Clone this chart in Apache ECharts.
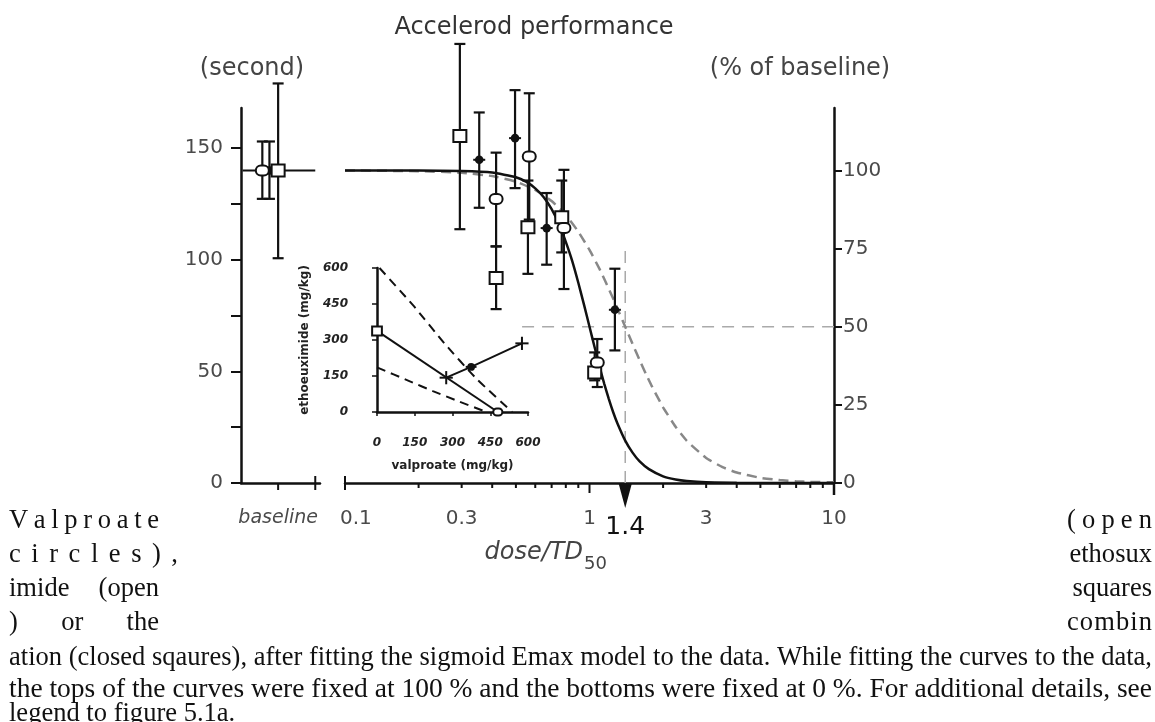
<!DOCTYPE html>
<html><head><meta charset="utf-8">
<script src="https://cdn.jsdelivr.net/npm/echarts@6/dist/echarts.min.js"></script>
<style>html,body{margin:0;padding:0;background:#fff;}#c{width:1155px;height:722px;}</style>
</head><body><div id="c"></div>
<script>
// ---------------- data ----------------
const leftTickValues = [0, 25, 50, 75, 100, 125, 150];
const leftLabelValues = [0, 50, 100, 150];
const rightTickValues = [0, 25, 50, 75, 100];
const xMinorTicks = [0.2, 0.3, 0.4, 0.5, 0.6, 0.7, 0.8, 0.9, 2, 3, 4, 5, 6, 7, 8, 9];
const xMajorTicks = [0.1, 1, 10];
const xTickLabels = ['0.1', '0.3', '1', '3', '10'];
const xTickLabelValues = [0.1, 0.3, 1, 3, 10];
const baselineTicks = [0.47, 0.94];
const baselineTickLabel = 'baseline';
const td50Mark = 1.4;
const td50Label = '1.4';

// baseline group (seconds)
const baseValproate = { x: [0.27], mean: [140], low: [127.3], high: [153] };
const baseCombination = { x: [0.36], mean: [140], low: [127.3], high: [153] };
const baseEthosuximide = { x: [0.47], mean: [140], low: [100.7], high: [179] };
const baselineLevelX = [0.02, 0.94];
const baselineLevelY = [140, 140];

// dose/TD50 groups (seconds)
const valproateDose = [0.415, 0.567, 0.786, 1.076];
const valproateMean = [127.2, 146.3, 114.2, 54];
const valproateLow = [106, 118, 86.9, 43];
const valproateHigh = [148, 174.6, 140.3, 64.5];

const ethoDose = [0.295, 0.415, 0.56, 0.77, 1.05];
const ethoMean = [155.5, 91.8, 114.6, 119.1, 49.5];
const ethoLow = [113.7, 77.9, 93.7, 103.3, 46];
const ethoHigh = [196.7, 106, 135.5, 135.5, 58.5];

const comboDose = [0.354, 0.496, 0.668, 1.27];
const comboMean = [144.8, 154.5, 114.2, 77.6];
const comboLow = [123.3, 132.1, 97.8, 59.4];
const comboHigh = [166, 176, 129.9, 96];

// fitted curves (seconds)
const solidDose = [0.1, 0.2, 0.3, 0.4, 0.5, 0.55, 0.6, 0.65, 0.7, 0.75, 0.8, 0.85, 0.9, 0.95, 1.0, 1.05, 1.1, 1.15, 1.2, 1.25, 1.3, 1.4, 1.5, 1.6, 1.75, 2, 2.25, 2.5, 3, 4, 5, 10];
const solidSec = [140, 140, 139.8, 139.1, 137, 135, 132, 128, 122.7, 116.1, 108, 99.4, 89.7, 79.8, 70, 60.7, 52, 44.3, 37.6, 31.7, 26.8, 19, 13.6, 9.8, 6.2, 3, 1.6, 0.9, 0.3, 0.1, 0, 0];
const dashDose = [0.1, 0.2, 0.3, 0.4, 0.5, 0.6, 0.7, 0.8, 0.9, 1.0, 1.1, 1.2, 1.3, 1.4, 1.5, 1.6, 1.7, 1.8, 2.0, 2.25, 2.5, 3, 3.5, 4, 5, 6, 7, 8, 10];
const dashSec = [140, 139.7, 139, 137.5, 135, 131.3, 126.3, 120, 112.6, 104.4, 95.8, 86.9, 78.3, 70, 62.3, 55.3, 48.9, 43.3, 33.9, 25.2, 18.9, 11.2, 7.1, 4.7, 2.3, 1.3, 0.8, 0.5, 0.3];

// reference lines
const refVertX = [1.4, 1.4];
const refVertY = [0, 105];
const refHorX = [0.53, 10];
const refHorY = [70, 70];

// inset (isobologram), mg/kg
const addVal = [0, 480];
const addEtho = [338, 0];
const upperVal = [10, 143, 268, 394, 537];
const upperEtho = [600, 445, 286, 140, 0];
const lowerVal = [0, 126, 222, 321, 434];
const lowerEtho = [186, 130, 87, 46, 0];
const rayVal = [275, 374, 576];
const rayEtho = [143, 188, 286];
const insetSquare = [0, 338];
const insetCircle = [480, 0];
const insetMix = [374, 188];
const insetCross = [[275, 143], [576, 286]];

// ---------------- helpers ----------------
const INK = '#111';
const LABEL = '#4a4a4a';
const UI_FONT = '"DejaVu Sans", sans-serif';
const zip = (a, b) => a.map((v, i) => [v, b[i]]);

function errSeries(xi, yi, xs, m, lo, hi) {
  return {
    type: 'custom', xAxisIndex: xi, yAxisIndex: yi, clip: false, silent: true, z: 4,
    data: xs.map((x, i) => [x, m[i], lo[i], hi[i]]), encode: { x: 0, y: 1 },
    renderItem(params, api) {
      const x = api.value(0);
      const pl = api.coord([x, api.value(2)]), ph = api.coord([x, api.value(3)]);
      const st = { stroke: INK, lineWidth: 2.2 };
      const c = 5.5;
      return { type: 'group', children: [
        { type: 'line', shape: { x1: pl[0], y1: pl[1], x2: ph[0], y2: ph[1] }, style: st },
        { type: 'line', shape: { x1: pl[0] - c, y1: pl[1], x2: pl[0] + c, y2: pl[1] }, style: st },
        { type: 'line', shape: { x1: ph[0] - c, y1: ph[1], x2: ph[0] + c, y2: ph[1] }, style: st }
      ]};
    }
  };
}
function markSeries(kind, xi, yi, xs, m, scale) {
  const k = scale || 1;
  return {
    type: 'custom', xAxisIndex: xi, yAxisIndex: yi, clip: false, silent: true, z: 6,
    data: xs.map((x, i) => [x, m[i]]), encode: { x: 0, y: 1 },
    renderItem(params, api) {
      const p = api.coord([api.value(0), api.value(1)]);
      if (kind === 'circle') {
        const w = 13 * k, h = 10 * k;
        return { type: 'rect', shape: { x: p[0] - w / 2, y: p[1] - h / 2, width: w, height: h, r: h / 2 },
          style: { fill: '#fff', stroke: INK, lineWidth: 2 } };
      }
      if (kind === 'square') {
        const w = 13 * k, h = 12 * k;
        return { type: 'rect', shape: { x: p[0] - w / 2, y: p[1] - h / 2, width: w, height: h },
          style: { fill: '#fff', stroke: INK, lineWidth: 2 } };
      }
      if (kind === 'cross') {
        const s = 6 * k;
        return { type: 'group', children: [
          { type: 'line', shape: { x1: p[0] - s, y1: p[1], x2: p[0] + s, y2: p[1] }, style: { stroke: INK, lineWidth: 2 } },
          { type: 'line', shape: { x1: p[0], y1: p[1] - s, x2: p[0], y2: p[1] + s }, style: { stroke: INK, lineWidth: 2 } }
        ]};
      }
      return { type: 'group', children: [
        { type: 'line', shape: { x1: p[0] - 6 * k, y1: p[1], x2: p[0] + 6 * k, y2: p[1] }, style: { stroke: INK, lineWidth: 2 } },
        { type: 'circle', shape: { cx: p[0], cy: p[1], r: 4.3 * k }, style: { fill: INK } }
      ]};
    }
  };
}
function lineSeries(xi, yi, xs, ys, opts) {
  return Object.assign({
    type: 'line', xAxisIndex: xi, yAxisIndex: yi, data: zip(xs, ys), symbol: 'none', silent: true, z: 2,
    lineStyle: { color: INK, width: 2 }
  }, opts || {});
}

// ---------------- caption layout ----------------
const ctx = document.createElement('canvas').getContext('2d');
const CAP_FONT = '"Liberation Serif", "Times New Roman", serif';
const CAP_SIZE = 27;
const capW = t => { ctx.font = CAP_SIZE + 'px ' + CAP_FONT; return ctx.measureText(t).width; };
const captionLines = [
  'ation (closed sqaures), after fitting the sigmoid Emax model to the data. While fitting the curves to the data,',
  'the tops of the curves were fixed at 100 % and the bottoms were fixed at 0 %. For additional details, see',
  'legend to figure 5.1a.'
];
const capSX = (1152 - 9) / capW(captionLines[0]);
function capText(t, x, y, sx, align) {
  return { type: 'text', x: x, y: y, scaleX: sx, silent: true,
    style: { text: t, fontSize: CAP_SIZE, fontFamily: CAP_FONT, fill: INK, align: align || 'left', verticalAlign: 'middle' } };
}
function spread(parts, x0, x1, y) {
  const ws = parts.map(p => capW(p) * capSX);
  const total = ws.reduce((a, b) => a + b, 0);
  const gap = Math.max(0, parts.length > 1 ? (x1 - x0 - total) / (parts.length - 1) : 0);
  let x = x0; const out = [];
  parts.forEach((p, i) => { out.push(capText(p, x, y, capSX)); x += ws[i] + gap; });
  return out;
}
const captionEls = [].concat(
  spread([...'Valproate'], 9, 159, 521),
  spread([...'circles),'], 9, 178, 555),
  spread(['imide', '(open'], 9, 159, 589),
  spread([')', 'or', 'the'], 9, 159, 623),
  spread([...'(open'], 1067, 1152, 521),
  [capText('ethosux', 1152, 555, capSX, 'right'), capText('squares', 1152, 589, capSX, 'right')],
  spread([...'combin'], 1067, 1152, 623),
  [capText(captionLines[0], 9, 658, capSX),
   capText(captionLines[1], 9, 690, (1152 - 9) / capW(captionLines[1])),
   capText(captionLines[2], 9, 714, capSX)]
);

// ---------------- chart ----------------
const axisLineStyle = { color: INK, width: 2.5 };
const chart = echarts.init(document.getElementById('c'));
chart.setOption({
  animation: false,
  backgroundColor: '#fff',
  grid: [
    { left: 241, top: 108, width: 79, height: 375 },
    { left: 345, top: 108, width: 489, height: 375 },
    { left: 377, top: 268, width: 151, height: 144 }
  ],
  xAxis: [
    { gridIndex: 0, type: 'value', min: 0, max: 1, axisLine: { lineStyle: axisLineStyle },
      axisTick: { show: false }, axisLabel: { show: false }, splitLine: { show: false } },
    { gridIndex: 1, type: 'log', logBase: 10, min: 0.1, max: 10, axisLine: { lineStyle: axisLineStyle },
      axisTick: { show: false }, axisLabel: { show: false }, splitLine: { show: false },
      minorTick: { show: false }, minorSplitLine: { show: false } },
    { gridIndex: 2, type: 'value', min: 0, max: 600, interval: 150, offset: 16,
      axisLine: { lineStyle: axisLineStyle }, axisTick: { length: 4, lineStyle: { color: INK, width: 1.5 } },
      axisLabel: { margin: 9, fontSize: 12, fontWeight: 'bold', fontStyle: 'italic', color: '#222', fontFamily: UI_FONT },
      splitLine: { show: false },
      name: 'valproate (mg/kg)', nameLocation: 'middle', nameGap: 32,
      nameTextStyle: { fontSize: 12, fontWeight: 'bold', color: '#222', fontFamily: UI_FONT } }
  ],
  yAxis: [
    { gridIndex: 0, type: 'value', min: 0, max: 168, position: 'left',
      axisLine: { show: true, lineStyle: axisLineStyle },
      axisTick: { show: true, length: 10, customValues: leftTickValues, lineStyle: { color: INK, width: 2 } },
      axisLabel: { customValues: leftLabelValues, margin: 18, fontSize: 20, color: LABEL, fontFamily: UI_FONT },
      splitLine: { show: false } },
    { gridIndex: 1, type: 'value', min: 0, max: 168, show: false },
    { gridIndex: 1, type: 'value', min: 0, max: 120, position: 'right',
      axisLine: { show: true, lineStyle: axisLineStyle },
      axisTick: { show: true, length: 8, customValues: rightTickValues, lineStyle: { color: INK, width: 2 } },
      axisLabel: { customValues: rightTickValues, margin: 9, fontSize: 20, color: LABEL, fontFamily: UI_FONT },
      splitLine: { show: false } },
    { gridIndex: 2, type: 'value', min: 0, max: 600, interval: 150, offset: 18,
      axisLine: { show: true, lineStyle: axisLineStyle },
      axisTick: { show: true, length: 5, lineStyle: { color: INK, width: 1.5 } },
      axisLabel: { margin: 11, fontSize: 12, fontWeight: 'bold', fontStyle: 'italic', color: '#222', fontFamily: UI_FONT },
      splitLine: { show: false },
      name: 'ethoeuximide (mg/kg)', nameLocation: 'middle', nameGap: 48,
      nameTextStyle: { fontSize: 12, fontWeight: 'bold', color: '#222', fontFamily: UI_FONT } }
  ],
  graphic: [
    { type: 'text', x: 534, y: 28, silent: true, style: { text: 'Accelerod performance', fontSize: 24, fill: '#333', fontFamily: UI_FONT, align: 'center', verticalAlign: 'middle' } },
    { type: 'text', x: 252, y: 69, silent: true, style: { text: '(second)', fontSize: 24, fill: '#444', fontFamily: UI_FONT, align: 'center', verticalAlign: 'middle' } },
    { type: 'text', x: 800, y: 69, silent: true, style: { text: '(% of baseline)', fontSize: 24, fill: '#444', fontFamily: UI_FONT, align: 'center', verticalAlign: 'middle' } },
    { type: 'text', x: 583, y: 553, silent: true, style: { text: 'dose/TD', fontSize: 24, fontStyle: 'italic', fill: '#444', fontFamily: UI_FONT, align: 'right', verticalAlign: 'middle' } },
    { type: 'text', x: 584, y: 564, silent: true, style: { text: '50', fontSize: 18, fill: '#444', fontFamily: UI_FONT, align: 'left', verticalAlign: 'middle' } }
  ].concat(captionEls),
  series: [
    // reference dashed lines
    lineSeries(1, 1, refVertX, refVertY, { lineStyle: { color: '#aaa', width: 1.5, type: [12, 8] }, z: 1 }),
    lineSeries(1, 1, refHorX, refHorY, { lineStyle: { color: '#aaa', width: 1.5, type: [12, 8] }, z: 1 }),
    // fitted curves
    lineSeries(1, 1, dashDose, dashSec, { smooth: 0.15, lineStyle: { color: '#888', width: 2.5, type: [10, 6] } }),
    lineSeries(1, 1, solidDose, solidSec, { smooth: 0.15, lineStyle: { color: INK, width: 2.5 } }),
    // baseline level
    lineSeries(0, 0, baselineLevelX, baselineLevelY, { lineStyle: { color: INK, width: 1.8 } }),
    // error bars
    errSeries(0, 0, baseValproate.x, baseValproate.mean, baseValproate.low, baseValproate.high),
    errSeries(0, 0, baseCombination.x, baseCombination.mean, baseCombination.low, baseCombination.high),
    errSeries(0, 0, baseEthosuximide.x, baseEthosuximide.mean, baseEthosuximide.low, baseEthosuximide.high),
    errSeries(1, 1, valproateDose, valproateMean, valproateLow, valproateHigh),
    errSeries(1, 1, ethoDose, ethoMean, ethoLow, ethoHigh),
    errSeries(1, 1, comboDose, comboMean, comboLow, comboHigh),
    // markers
    markSeries('closed', 0, 0, baseCombination.x, baseCombination.mean),
    markSeries('circle', 0, 0, baseValproate.x, baseValproate.mean),
    markSeries('square', 0, 0, baseEthosuximide.x, baseEthosuximide.mean),
    markSeries('closed', 1, 1, comboDose, comboMean),
    markSeries('square', 1, 1, ethoDose, ethoMean),
    markSeries('circle', 1, 1, valproateDose, valproateMean),
    // x ticks (log part)
    { type: 'custom', xAxisIndex: 1, yAxisIndex: 1, clip: false, silent: true, z: 5,
      data: xMinorTicks.map(v => [v, 0]), encode: { x: 0, y: 1 },
      renderItem(params, api) {
        const p = api.coord([api.value(0), 0]);
        return { type: 'line', shape: { x1: p[0], y1: p[1], x2: p[0], y2: p[1] + 5 }, style: { stroke: INK, lineWidth: 2 } };
      } },
    { type: 'custom', xAxisIndex: 1, yAxisIndex: 1, clip: false, silent: true, z: 5,
      data: xMajorTicks.map(v => [v, 0]), encode: { x: 0, y: 1 },
      renderItem(params, api) {
        const p = api.coord([api.value(0), 0]);
        const i = params.dataIndex;
        const y1 = i === 0 ? p[1] - 7 : p[1];
        const y2 = i === 0 ? p[1] + 7 : (i === 1 ? p[1] + 10 : p[1] + 12);
        return { type: 'line', shape: { x1: p[0], y1: y1, x2: p[0], y2: y2 }, style: { stroke: INK, lineWidth: i === 2 ? 2.5 : 2 } };
      } },
    { type: 'custom', xAxisIndex: 1, yAxisIndex: 1, clip: false, silent: true, z: 5,
      data: xTickLabelValues.map(v => [v, 0]), encode: { x: 0, y: 1 },
      renderItem(params, api) {
        const p = api.coord([api.value(0), 0]);
        const first = params.dataIndex === 0;
        return { type: 'text', x: first ? p[0] - 5 : p[0], y: p[1] + 36,
          style: { text: xTickLabels[params.dataIndex], fontSize: 20, fill: LABEL, fontFamily: UI_FONT, align: first ? 'left' : 'center', verticalAlign: 'middle' } };
      } },
    // TD50 marker
    { type: 'custom', xAxisIndex: 1, yAxisIndex: 1, clip: false, silent: true, z: 5,
      data: [[td50Mark, 0]], encode: { x: 0, y: 1 },
      renderItem(params, api) {
        const p = api.coord([api.value(0), 0]);
        return { type: 'group', children: [
          { type: 'polygon', shape: { points: [[p[0] - 6.5, p[1] + 1], [p[0] + 6.5, p[1] + 1], [p[0], p[1] + 25]] }, style: { fill: INK } },
          { type: 'text', x: p[0], y: p[1] + 44, style: { text: td50Label, fontSize: 25, fill: INK, fontFamily: UI_FONT, align: 'center', verticalAlign: 'middle' } }
        ]};
      } },
    // baseline section ticks
    { type: 'custom', xAxisIndex: 0, yAxisIndex: 0, clip: false, silent: true, z: 5,
      data: baselineTicks.map(v => [v, 0]), encode: { x: 0, y: 1 },
      renderItem(params, api) {
        const p = api.coord([api.value(0), 0]);
        if (params.dataIndex === 0) {
          return { type: 'group', children: [
            { type: 'line', shape: { x1: p[0], y1: p[1], x2: p[0], y2: p[1] + 7 }, style: { stroke: INK, lineWidth: 2 } },
            { type: 'text', x: p[0], y: p[1] + 35, style: { text: baselineTickLabel, fontSize: 19, fontStyle: 'italic', fill: LABEL, fontFamily: UI_FONT, align: 'center', verticalAlign: 'middle' } }
          ]};
        }
        return { type: 'line', shape: { x1: p[0], y1: p[1] - 7, x2: p[0], y2: p[1] + 7 }, style: { stroke: INK, lineWidth: 2 } };
      } },
    // inset lines
    lineSeries(2, 3, upperVal, upperEtho, { smooth: 0.2, lineStyle: { color: INK, width: 2, type: [9, 6] } }),
    lineSeries(2, 3, lowerVal, lowerEtho, { smooth: 0.2, lineStyle: { color: INK, width: 2, type: [9, 6] } }),
    lineSeries(2, 3, addVal, addEtho, { lineStyle: { color: INK, width: 2 } }),
    lineSeries(2, 3, rayVal, rayEtho, { lineStyle: { color: INK, width: 2 } }),
    markSeries('square', 2, 3, [insetSquare[0]], [insetSquare[1]], 0.75),
    markSeries('circle', 2, 3, [insetCircle[0]], [insetCircle[1]], 0.7),
    markSeries('closed', 2, 3, [insetMix[0]], [insetMix[1]], 0.9),
    markSeries('cross', 2, 3, insetCross.map(d => d[0]), insetCross.map(d => d[1]), 1.1)
  ]
});
</script></body></html>
